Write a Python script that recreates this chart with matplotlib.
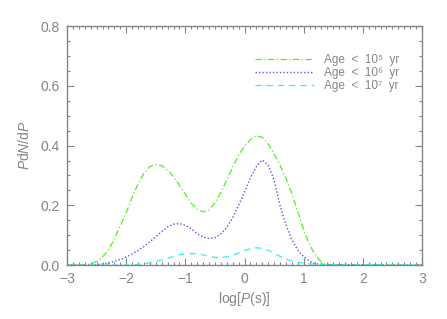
import numpy as np
import matplotlib
matplotlib.use("Agg")
import matplotlib.pyplot as plt
from matplotlib.ticker import MultipleLocator

logP = [round(-3.0 + 0.1 * i, 1) for i in range(61)]

age_1e5 = [0, 0, 0, 0.001, 0.004, 0.012, 0.027, 0.050, 0.088, 0.132,
           0.175, 0.227, 0.272, 0.308, 0.330, 0.337, 0.333, 0.318, 0.296, 0.268,
           0.237, 0.207, 0.187, 0.178, 0.185, 0.208, 0.243, 0.285, 0.328, 0.368,
           0.398, 0.420, 0.432, 0.428, 0.405, 0.372, 0.335, 0.290, 0.240, 0.180,
           0.118, 0.068, 0.032, 0.010, 0.003, 0.001, 0.001, 0.001, 0.001, 0.001,
           0.001, 0.001, 0.001, 0, 0, 0, 0, 0, 0, 0, 0]

age_1e6 = [0, 0, 0, 0, 0, 0.001, 0.003, 0.007, 0.012, 0.019,
           0.027, 0.037, 0.049, 0.062, 0.078, 0.095, 0.112, 0.128, 0.137, 0.139,
           0.133, 0.121, 0.105, 0.094, 0.089, 0.092, 0.104, 0.126, 0.158, 0.200,
           0.245, 0.292, 0.330, 0.352, 0.335, 0.285, 0.200, 0.135, 0.085, 0.050,
           0.028, 0.013, 0.005, 0.002, 0.001, 0.001, 0.001, 0.001, 0.001, 0.001,
           0.001, 0.001, 0.001, 0.001, 0, 0, 0, 0, 0, 0, 0]

age_1e7 = [0, 0, 0, 0, 0, 0, 0, 0, 0, 0,
           0, 0.001, 0.002, 0.004, 0.008, 0.012, 0.017, 0.023, 0.029, 0.035,
           0.038, 0.039, 0.037, 0.034, 0.029, 0.026, 0.025, 0.028, 0.033, 0.040,
           0.048, 0.055, 0.058, 0.056, 0.050, 0.040, 0.029, 0.020, 0.014, 0.010,
           0.007, 0.004, 0.003, 0.002, 0.001, 0.001, 0.001, 0.001, 0.001, 0.001,
           0.001, 0.001, 0.001, 0.001, 0.001, 0, 0, 0, 0, 0, 0]

labels = ["Age  <  10\u2075  yr", "Age  <  10\u2076  yr", "Age  <  10\u2077  yr"]

plt.rcParams['font.family'] = ['Liberation Sans', 'DejaVu Sans']
plt.rcParams['mathtext.fontset'] = 'custom'
plt.rcParams['mathtext.rm'] = 'Liberation Sans'
plt.rcParams['mathtext.it'] = 'Liberation Sans:italic'

gray = '#858585'
fig = plt.figure(figsize=(4.47, 3.19), dpi=100)
ax = fig.add_axes([0.150, 0.169, 0.794, 0.749])

ax.plot(logP, age_1e5, color='#55ee22', lw=0.9, linestyle=(0, (5, 2, 1, 2)), label=labels[0])
ax.plot(logP, age_1e6, color='#5555ee', lw=1.0, linestyle=(0, (1, 1.5)), label=labels[1])
ax.plot(logP, age_1e7, color='#33eeee', lw=0.9, linestyle=(0, (5, 4)), label=labels[2])

ax.set_xlim(-3, 3)
ax.set_ylim(0, 0.8)
ax.xaxis.set_minor_locator(MultipleLocator(0.1))
ax.yaxis.set_minor_locator(MultipleLocator(0.05))
ax.set_yticks([0, 0.2, 0.4, 0.6, 0.8])
ax.set_yticklabels(['0.0', '0.2', '0.4', '0.6', '0.8'])
ax.set_xticks([-3, -2, -1, 0, 1, 2, 3])
ax.set_xticklabels(['\u22123', '\u22122', '\u22121', '0', '1', '2', '3'])

ax.tick_params(which='both', direction='in', top=True, right=True, colors=gray,
               labelcolor=gray, labelsize=10, width=0.8)
ax.tick_params(which='major', length=5, pad=5)
ax.tick_params(which='minor', length=2.5)
for s in ax.spines.values():
    s.set_color(gray)
    s.set_linewidth(1.0)

ax.set_xlabel(r"$\log[P(\mathrm{s})]$", color=gray, fontsize=10, labelpad=3)
ax.set_ylabel(r"$P\mathrm{d}N/\mathrm{d}P$", color=gray, fontsize=10, labelpad=6)

leg = ax.legend(loc='upper right', bbox_to_anchor=(0.935, 0.885), frameon=False,
                fontsize=8.5, handlelength=5.0, handletextpad=0.8, labelspacing=0.12,
                borderpad=0, borderaxespad=0, labelcolor=gray)

fig.savefig('out.png', dpi=100)
